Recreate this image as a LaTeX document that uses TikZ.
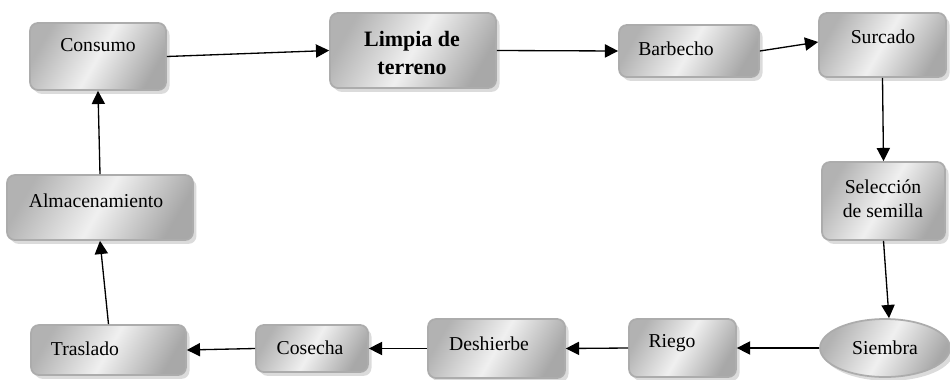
\documentclass[tikz,border=0pt]{standalone}
\usepackage{fontspec}
\setmainfont{Liberation Serif}
\newfontfamily\serifa{Liberation Serif}
\usetikzlibrary{shadows,arrows.meta,shapes.geometric,calc}
\tikzset{
  box/.style={draw=gray!65, line width=1pt, rounded corners=4.5pt,
    left color=gray!60, right color=gray!68, middle color=gray!12, shading angle=60,
    drop shadow={shadow xshift=2pt, shadow yshift=-2.2pt, fill=gray!28, opacity=1},
    inner sep=0pt},
  oval/.style={box, ellipse, rounded corners=0pt},
  txt/.style={font=\serifa\fontsize{11.2}{13.4}\selectfont, inner sep=0pt, align=center},
  btxt/.style={font=\serifa\fontsize{12.5}{15.5}\selectfont\bfseries, inner sep=0pt, align=center},
  arr/.style={-{Triangle[length=7.5pt,width=7.5pt]}, line width=0.75pt, black},
}
\begin{document}
\begin{tikzpicture}[x=0.02cm,y=-0.02cm]
\useasboundingbox (0,0) rectangle (950,379);
% boxes
\node[box, minimum width=2.72cm, minimum height=1.34cm] (consumo) at (98,56.5) {};
\node[box, minimum width=3.32cm, minimum height=1.50cm] (limpia) at (413,50.5) {};
\node[box, minimum width=2.80cm, minimum height=1.04cm] (barbecho) at (689,51) {};
\node[box, minimum width=2.54cm, minimum height=1.28cm] (surcado) at (882.5,45) {};
\node[box, minimum width=2.46cm, minimum height=1.56cm] (seleccion) at (883.5,201) {};
\node[oval, minimum width=2.60cm, minimum height=1.16cm] (siembra) at (885,348) {};
\node[box, minimum width=2.14cm, minimum height=1.16cm] (riego) at (682.5,348) {};
\node[box, minimum width=2.74cm, minimum height=1.18cm] (deshierbe) at (496.5,348.5) {};
\node[box, minimum width=2.24cm, minimum height=0.94cm] (cosecha) at (312,348.5) {};
\node[box, minimum width=3.10cm, minimum height=1.00cm] (traslado) at (108.5,350) {};
\node[box, minimum width=3.72cm, minimum height=1.30cm] (almacen) at (100,207.5) {};
% texts
\node[txt] (consumo-t) at (98,45) {Consumo};
\node[btxt] (limpia-t) at (412,53) {Limpia de\\terreno};
\node[txt] (barbecho-t) at (676,49) {Barbecho};
\node[txt] (surcado-t) at (883,37) {Surcado};
\node[txt] (seleccion-t) at (883,199) {Selección\\de semilla};
\node[txt] (siembra-t) at (885,348) {Siembra};
\node[txt] (riego-t) at (672,343) {Riego};
\node[txt] (deshierbe-t) at (489,344) {Deshierbe};
\node[txt] (cosecha-t) at (310,348) {Cosecha};
\node[txt] (traslado-t) at (85,349) {Traslado};
\node[txt] (almacen-t) at (96,201) {Almacenamiento};
% connectors
\draw[arr] (consumo.east) -- (limpia.west);
\draw[arr] (limpia.east) -- (barbecho.west);
\draw[arr] (barbecho.east) -- ([yshift=0.06cm]surcado.west);
\draw[arr] (surcado.south) -- (seleccion.north);
\draw[arr] (seleccion.south) -- ([xshift=0.08cm]siembra.north);
\draw[arr] (siembra.west) -- (riego.east);
\draw[arr] (riego.west) -- (deshierbe.east);
\draw[arr] (deshierbe.west) -- (cosecha.east);
\draw[arr] (cosecha.west) -- (traslado.east);
\draw[arr] (traslado.north) -- (almacen.south);
\draw[arr] (almacen.north) -- (consumo.south);
\end{tikzpicture}
\end{document}
